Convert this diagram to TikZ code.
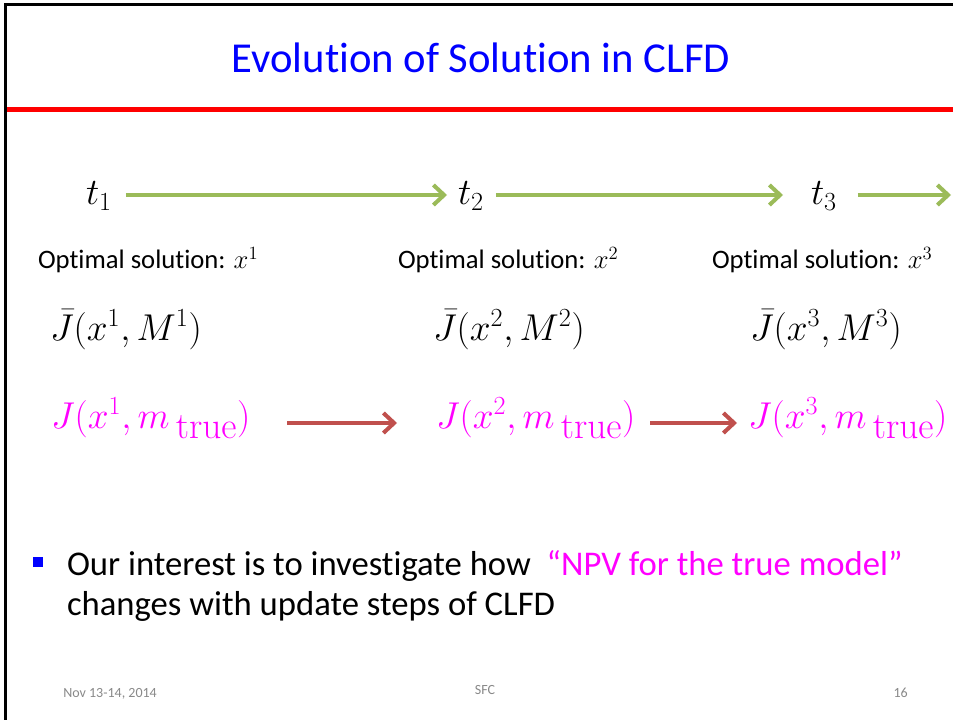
\RequirePackage{fix-cm}
\documentclass[tikz,border=0pt]{standalone}
\usepackage[no-math]{fontspec}
\setmainfont[Ligatures=NoCommon]{Carlito}
\usetikzlibrary{arrows.meta}
\definecolor{titleblue}{RGB}{0,0,255}
\definecolor{rulered}{RGB}{255,0,0}
\definecolor{stepgreen}{RGB}{155,187,89}
\definecolor{npvred}{RGB}{192,80,77}
\definecolor{npvpink}{RGB}{255,0,255}
\definecolor{footgray}{RGB}{137,137,137}

\begin{document}
\begin{tikzpicture}[x=0.75pt,y=-0.75pt,
  lbl/.style={anchor=base west,inner sep=0pt,outer sep=0pt},
  mathbig/.style={font=\fontsize{28}{34}\selectfont},
  optfont/.style={font=\fontsize{20}{24}\selectfont},
  bodyfont/.style={font=\fontsize{26}{32}\selectfont},
  footfont/.style={font=\fontsize{10.5}{12}\selectfont,text=footgray,inner sep=0pt},
  greenarrow/.style={draw=stepgreen,line width=3pt,-{Straight Barb[length=8pt,width=15pt]}},
  redarrow/.style={draw=npvred,line width=3pt,-{Straight Barb[length=8pt,width=15pt]}},
]
\useasboundingbox[fill=white] (0,0) rectangle (953,720);

% slide frame and title rule
\draw[line width=2.25pt] (5,720) -- (5,5) -- (953,5);
\draw[rulered,line width=3.75pt] (7,110) -- (953,110);

\node[font=\fontsize{32}{38}\selectfont,text=titleblue,anchor=base,inner sep=0pt] (title) at (481,73) {Evolution of Solution in CLFD};

% time steps
\node[lbl,mathbig] (t1) at (86,205) {$t_1$};
\node[lbl,mathbig] (t2) at (458,205) {$t_2$};
\node[lbl,mathbig] (t3) at (811,205) {$t_3$};
\coordinate (tend) at (951,195);

\draw[greenarrow] ([shift={(14,-10)}]t1.base east) -- ([shift={(-11,-10)}]t2.base west);
\draw[greenarrow] ([shift={(12,-10)}]t2.base east) -- ([shift={(-28,-10)}]t3.base west);
\draw[greenarrow] ([shift={(21,-10)}]t3.base east) -- (tend);

% optimal solutions
\node[lbl,optfont] (opt1) at (38,269) {Optimal solution: $x^1$};
\node[lbl,optfont] (opt2) at (398,269) {Optimal solution: $x^2$};
\node[lbl,optfont] (opt3) at (712,269) {Optimal solution: $x^3$};

% approximate objective values
\node[lbl,mathbig] (jb1) at (50,340) {$\bar{J}(x^1, M^1)$};
\node[lbl,mathbig] (jb2) at (433,340) {$\bar{J}(x^2, M^2)$};
\node[lbl,mathbig] (jb3) at (750,340) {$\bar{J}(x^3, M^3)$};

% true-model NPV
\node[lbl,mathbig,text=npvpink] (j1) at (51,428) {$J(x^1, m_{\textstyle\,\mathrm{true}})$};
\node[lbl,mathbig,text=npvpink] (j2) at (436,428) {$J(x^2, m_{\textstyle\,\mathrm{true}})$};
\node[lbl,mathbig,text=npvpink] (j3) at (748,428) {$J(x^3, m_{\textstyle\,\mathrm{true}})$};

\draw[redarrow] ([shift={(236,-5)}]j1.base west) -- ([shift={(-39,-5)}]j2.base west);
\draw[redarrow] ([shift={(214,-5)}]j2.base west) -- ([shift={(-11,-5)}]j3.base west);

% bullet text
\node[fill=titleblue,inner sep=0pt,minimum size=7.5pt] (bullet) at (38,562) {};
\node[lbl,bodyfont] (body1) at (67,575) {Our interest is to investigate how\ \ \textcolor{npvpink}{“NPV for the true model”}};
\node[lbl,bodyfont] (body2) at (67,615) {changes with update steps of CLFD};

% footer
\node[footfont,anchor=base west] (date) at (63,697) {Nov 13-14, 2014};
\node[footfont,anchor=base] (org) at (485,694) {SFC};
\node[footfont,anchor=base east] (page) at (908,697) {16};
\end{tikzpicture}
\end{document}
